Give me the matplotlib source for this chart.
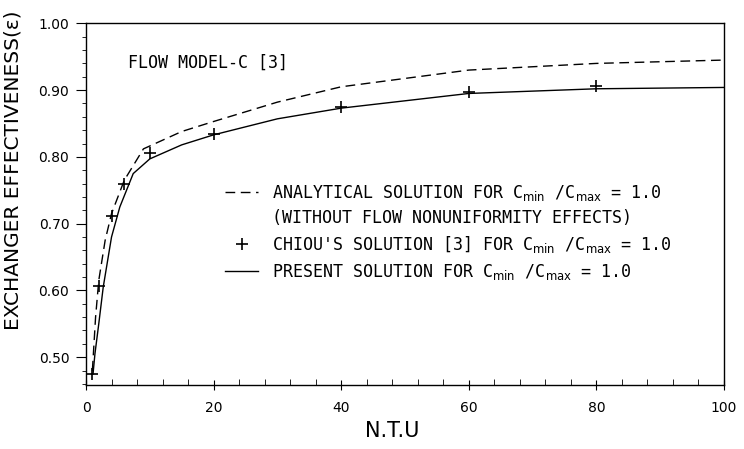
import matplotlib.pyplot as plt
from matplotlib.lines import Line2D
from matplotlib.ticker import MultipleLocator

# analytical solution (dashed)
ntu_ana = [1.0, 1.5, 2.0, 3.0, 4.0, 6.0, 9.0, 15, 20, 30, 40, 60, 80, 100]
eff_ana = [0.48, 0.56, 0.615, 0.675, 0.715, 0.765, 0.812, 0.838, 0.853, 0.882, 0.905, 0.930, 0.940, 0.945]

# Chiou's solution (crosses)
ntu_chiou = [1, 2, 4, 6, 10, 20, 40, 60, 80]
eff_chiou = [0.475, 0.606, 0.711, 0.760, 0.806, 0.835, 0.875, 0.897, 0.906]

# present solution (solid)
ntu_pres = [1.1, 1.4, 2.0, 2.7, 4.0, 5.3, 7.4, 10.0, 15, 20, 30, 40, 60, 80, 100]
eff_pres = [0.475, 0.505, 0.55, 0.605, 0.68, 0.725, 0.775, 0.797, 0.818, 0.833, 0.857, 0.873, 0.895, 0.902, 0.904]

fig = plt.figure(figsize=(7.44, 4.49), dpi=100)
ax = fig.add_axes([0.1156, 0.142, 0.8575, 0.806])

l_ana, = ax.plot(ntu_ana, eff_ana, color="black", lw=1.0, dashes=(7, 4))
l_chiou, = ax.plot(ntu_chiou, eff_chiou, ls="none", marker="+", ms=9, mew=1.2, color="black")
l_pres, = ax.plot(ntu_pres, eff_pres, color="black", lw=1.0)

ax.set_xlim(0, 100)
ax.set_ylim(0.458, 1.0)
ax.xaxis.set_major_locator(MultipleLocator(20))
ax.xaxis.set_minor_locator(MultipleLocator(4))
ax.yaxis.set_minor_locator(MultipleLocator(0.02))
ax.set_yticks([0.5, 0.6, 0.7, 0.8, 0.9, 1.0])
ax.set_yticklabels(["0.50", "0.60", "0.70", "0.80", "0.90", "1.00"])
ax.tick_params(axis="y", which="major", direction="out", length=7, labelsize=10, pad=5)
ax.tick_params(axis="y", which="minor", direction="out", length=3)
ax.tick_params(axis="x", which="major", direction="inout", length=7, labelsize=10, pad=8)
ax.tick_params(axis="x", which="minor", direction="in", length=4)
for s in ax.spines.values():
    s.set_linewidth(1.0)

ax.set_xlabel("N.T.U", fontsize=15)
ax.xaxis.set_label_coords(0.48, -0.098)
ax.set_ylabel("EXCHANGER EFFECTIVENESS(\u03b5)", fontsize=14.5)
ax.yaxis.set_label_coords(-0.099, 0.594)

ax.text(0.066, 0.892, "FLOW MODEL-C [3]", transform=ax.transAxes,
        family="DejaVu Sans Mono", fontsize=12, va="center")

blank = Line2D([], [], ls="none")
cm = r"C$_{\rm min}$ /C$_{\rm max}$"
labels = ["ANALYTICAL SOLUTION FOR " + cm + " = 1.0",
          "(WITHOUT FLOW NONUNIFORMITY EFFECTS)",
          "CHIOU'S SOLUTION [3] FOR " + cm + " = 1.0",
          "PRESENT SOLUTION FOR " + cm + " = 1.0"]
ax.legend([l_ana, blank, l_chiou, l_pres], labels, loc="upper left",
          bbox_to_anchor=(0.218, 0.56), frameon=False, handlelength=2.0,
          handletextpad=0.8, labelspacing=0.4, borderpad=0, borderaxespad=0,
          prop={"family": "DejaVu Sans Mono", "size": 12})

fig.savefig("out.png", dpi=100)
